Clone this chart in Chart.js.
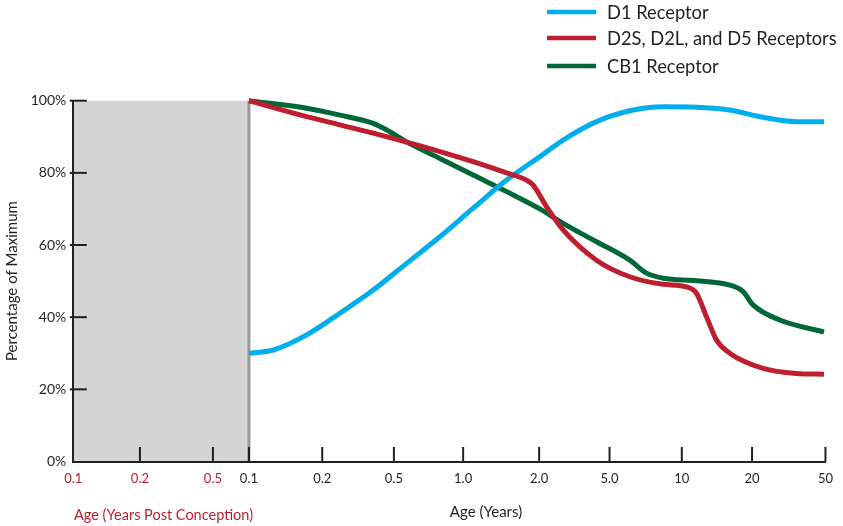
<!DOCTYPE html>
<html>
<head>
<meta charset="utf-8">
<script src="https://cdn.jsdelivr.net/npm/chart.js@4.4.1/dist/chart.umd.min.js"></script>
<style>
  html, body { margin: 0; padding: 0; background: #ffffff; }
  #wrap { position: relative; width: 843px; height: 526px; }
</style>
</head>
<body>
<div id="wrap"><canvas id="chart"></canvas></div>
<script>
// ---- Data ----
// X axis is an ordinal "position" axis: each tick label sits at a position unit.
const tickLabels = ['0.1', '0.2', '0.5', '0.1', '0.2', '0.5', '1.0', '2.0', '5.0', '10', '20', '50'];
const tickPositions = [0, 0.925, 1.938, 2.438, 3.455, 4.45, 5.411, 6.466, 7.443, 8.446, 9.421, 10.44];
const prenatalTickCount = 3;           // first three labels are years post conception
const birthPosition = 2.438;           // end of the shaded prenatal band
const yTickValues = [0, 20, 40, 60, 80, 100];

const seriesNames = ['D1 Receptor', 'D2S, D2L, and D5 Receptors', 'CB1 Receptor'];

const d1X = [2.438, 2.775, 3.239, 3.701, 4.163, 4.626, 5.088, 5.55, 6.014, 6.476, 6.799, 7.262, 7.724, 8.187, 8.65, 9.112, 9.574, 10.037, 10.42];
const d1Y = [30, 30.9, 35.1, 41.1, 47.5, 54.9, 62.3, 70.2, 78, 84.5, 89.1, 94.2, 97.2, 98.3, 98.2, 97.4, 95.4, 94.2, 94.2];

const d2X = [2.438, 3.239, 3.701, 4.163, 4.626, 5.088, 5.55, 6.014, 6.291, 6.383, 6.569, 6.799, 7.262, 7.724, 8.187, 8.511, 8.65, 8.789, 8.927, 9.112, 9.574, 10.037, 10.42];
const d2Y = [100, 95.6, 93.3, 91, 88.5, 85.9, 83.1, 80, 78, 76.6, 70.6, 64.2, 55.8, 51.2, 49.1, 48.4, 46.6, 40.1, 33.7, 30, 25.8, 24.4, 24.2];

const cb1X = [2.438, 3.239, 3.701, 4.163, 4.394, 4.626, 5.088, 5.55, 6.014, 6.476, 6.799, 7.262, 7.724, 7.956, 8.187, 8.65, 9.112, 9.297, 9.435, 9.806, 10.42];
const cb1Y = [100, 97.9, 96, 93.7, 91.4, 88.6, 84, 79.4, 74.8, 70, 66, 60.9, 55.8, 52.2, 50.8, 50.1, 48.9, 47.1, 43.4, 39.2, 35.9];

// ---- Styles ----
const colors = ['#00aeef', '#be1e2d', '#006838'];
const dark = '#231f20';
const red = '#be1e2d';
const FONT = 'Lato, "Open Sans", sans-serif';

const toPoints = (xs, ys) => xs.map((x, i) => ({ x: x, y: ys[i] }));

const shadePlugin = {
  id: 'shade',
  beforeDraw(chart) {
    const { ctx, scales: { x, y } } = chart;
    const x0 = x.getPixelForValue(tickPositions[0]);
    const x1 = x.getPixelForValue(birthPosition);
    const yTop = y.getPixelForValue(100);
    const yBot = y.getPixelForValue(0);
    ctx.save();
    ctx.fillStyle = '#d4d4d4';
    ctx.fillRect(x0, yTop, x1 - x0, yBot - yTop);
    ctx.strokeStyle = '#999999';
    ctx.lineWidth = 3;
    ctx.beginPath();
    ctx.moveTo(x1, yTop);
    ctx.lineTo(x1, yBot);
    ctx.stroke();
    ctx.restore();
  }
};

const innerTicksPlugin = {
  id: 'innerTicks',
  beforeDatasetsDraw(chart) {
    const { ctx, scales: { x, y } } = chart;
    ctx.save();
    ctx.strokeStyle = dark;
    ctx.lineWidth = 2;
    const left = x.left;
    yTickValues.forEach(v => {
      if (v === 0) return;
      const py = y.getPixelForValue(v);
      ctx.beginPath();
      ctx.moveTo(left - 3.5, py);
      ctx.lineTo(left + 13.5, py);
      ctx.stroke();
    });
    const bottom = y.bottom;
    tickPositions.forEach((v, i) => {
      if (i === 0) return;
      const px = x.getPixelForValue(v);
      ctx.beginPath();
      ctx.moveTo(px, bottom);
      ctx.lineTo(px, bottom - 14.5);
      ctx.stroke();
    });
    ctx.restore();
  }
};

const legendPlugin = {
  id: 'sideLegend',
  afterDraw(chart) {
    const { ctx } = chart;
    const rows = [12, 38, 66];
    ctx.save();
    chart.data.datasets.forEach((ds, i) => {
      const yy = rows[i];
      ctx.strokeStyle = ds.borderColor;
      ctx.lineWidth = 4.5;
      ctx.beginPath();
      ctx.moveTo(547, yy);
      ctx.lineTo(596, yy);
      ctx.stroke();
      ctx.fillStyle = dark;
      ctx.font = '18.3px ' + FONT;
      ctx.textAlign = 'left';
      ctx.textBaseline = 'middle';
      ctx.fillText(ds.label, 607, yy + 1);
    });
    ctx.restore();
  }
};

const axisTitlesPlugin = {
  id: 'axisTitles',
  afterDraw(chart) {
    const { ctx } = chart;
    ctx.save();
    ctx.textBaseline = 'middle';
    ctx.textAlign = 'left';
    ctx.fillStyle = red;
    ctx.font = '14.5px ' + FONT;
    ctx.fillText('Age (Years Post Conception)', 74, 515);
    ctx.textAlign = 'center';
    ctx.fillStyle = dark;
    ctx.font = '15px ' + FONT;
    ctx.fillText('Age (Years)', 486, 512);
    ctx.restore();
  }
};

new Chart(document.getElementById('chart'), {
  type: 'line',
  data: {
    datasets: [
      { label: seriesNames[0], data: toPoints(d1X, d1Y), borderColor: colors[0], order: 1 },
      { label: seriesNames[1], data: toPoints(d2X, d2Y), borderColor: colors[1], order: 0 },
      { label: seriesNames[2], data: toPoints(cb1X, cb1Y), borderColor: colors[2], order: 2 }
    ]
  },
  options: {
    responsive: true,
    maintainAspectRatio: false,
    animation: false,
    parsing: true,
    datasets: {
      line: {
        borderWidth: 5,
        pointRadius: 0,
        fill: false,
        cubicInterpolationMode: 'monotone',
        clip: false,
        borderJoinStyle: 'round'
      }
    },
    layout: { padding: { top: 100.7, right: 17.3, left: 0, bottom: 0 } },
    plugins: {
      legend: { display: false },
      tooltip: { enabled: false }
    },
    scales: {
      x: {
        type: 'linear',
        min: tickPositions[0],
        max: tickPositions[tickPositions.length - 1],
        afterBuildTicks: (scale) => { scale.ticks = tickPositions.map(v => ({ value: v })); },
        afterFit: (scale) => { scale.height = 64.5; },
        grid: { display: false, drawTicks: false },
        border: { display: true, color: dark, width: 2 },
        ticks: {
          autoSkip: false,
          maxRotation: 0,
          padding: 10,
          font: { family: FONT, size: 13 },
          color: (ctx) => ctx.index < prenatalTickCount ? red : dark,
          callback: (value, index) => tickLabels[index]
        }
      },
      y: {
        min: 0,
        max: 100,
        afterBuildTicks: (scale) => { scale.ticks = yTickValues.map(v => ({ value: v })); },
        afterFit: (scale) => { scale.width = 73.3; },
        grid: { display: false, drawTicks: false },
        border: { display: true, color: dark, width: 2 },
        ticks: {
          padding: 7,
          font: { family: FONT, size: 14 },
          color: dark,
          callback: (value) => value + '%'
        },
        title: {
          display: true,
          text: 'Percentage of Maximum',
          color: dark,
          font: { family: FONT, size: 15 },
          padding: { top: 3, bottom: 0 }
        }
      }
    }
  },
  plugins: [shadePlugin, innerTicksPlugin, legendPlugin, axisTitlesPlugin]
});
</script>
</body>
</html>
